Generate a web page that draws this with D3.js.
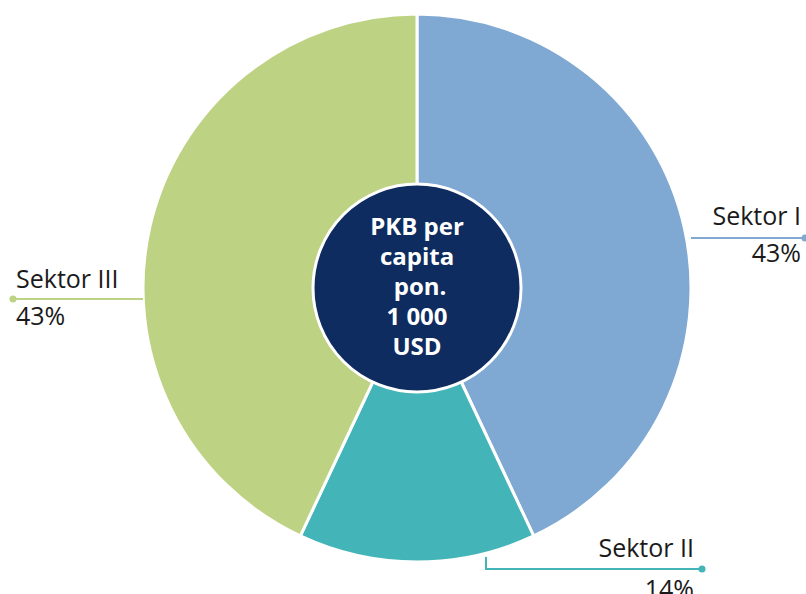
<!DOCTYPE html>
<html>
<head>
<meta charset="utf-8">
<script src="https://cdn.jsdelivr.net/npm/d3@7"></script>
<style>
  body { margin: 0; background: #fff; }
  svg { display: block; font-family: "Open Sans", "Noto Sans", sans-serif; }
</style>
</head>
<body>
<svg id="chart" width="806" height="594"></svg>
<script>
  var sectors = ['Sektor I', 'Sektor II', 'Sektor III'],
      shares = [43, 14, 43],
      colors = ['#7fa8d3', '#43b5b8', '#bdd283'],
      centerLines = ['PKB per', 'capita', '\u00a0pon.', '1 000', 'USD'];

  var cx = 417,
      cy = 288,
      radius = 274,
      holeRadius = 104;

  var svg = d3.select('#chart');
  var g = svg.append('g').attr('transform', 'translate(' + cx + ',' + cy + ')');

  var data = sectors.map(function(name, i) {
    return { name: name, value: shares[i], color: colors[i] };
  });

  var pie = d3.pie().sort(null).value(function(d) { return d.value; });
  var arc = d3.arc().innerRadius(0).outerRadius(radius);

  g.selectAll('path.slice')
    .data(pie(data))
    .enter().append('path')
      .attr('class', 'slice')
      .attr('d', arc)
      .style('fill', function(d) { return d.data.color; })
      .style('stroke', '#fff')
      .style('stroke-width', 3);

  // center disc
  g.append('circle')
    .attr('r', holeRadius)
    .style('fill', '#0e2c5f')
    .style('stroke', '#fff')
    .style('stroke-width', 3);

  g.append('text')
    .attr('text-anchor', 'middle')
    .style('fill', '#fff')
    .style('font-weight', 'bold')
    .style('font-size', '24px')
    .selectAll('tspan')
    .data(centerLines)
    .enter().append('tspan')
      .attr('x', 0)
      .attr('y', function(d, i) { return -53 + i * 30; })
      .text(function(d) { return d; });

  // leader lines + labels, anchored at the arc edge
  var leaders = [
    { i: 0, pts: [[radius, -50], [388, -50]], anchor: 'end', tx: 384, ty1: -63, ty2: -26 },
    { i: 1, pts: [[69, radius - 5], [69, 281], [285, 281]], anchor: 'end', tx: 277, ty1: 269, ty2: 310 },
    { i: 2, pts: [[-radius, 11], [-404, 11]], anchor: 'start', tx: -401, ty1: 0, ty2: 37 }
  ];

  var line = d3.line();
  leaders.forEach(function(l) {
    var c = colors[l.i],
        end = l.pts[l.pts.length - 1];
    g.append('path')
      .attr('d', line(l.pts))
      .style('fill', 'none')
      .style('stroke', c)
      .style('stroke-width', 2);
    g.append('circle')
      .attr('cx', end[0])
      .attr('cy', end[1])
      .attr('r', 3.5)
      .style('fill', c);
    g.append('text')
      .attr('x', l.tx)
      .attr('y', l.ty1)
      .attr('text-anchor', l.anchor)
      .style('font-size', '25px')
      .style('fill', '#1a1a1a')
      .text(sectors[l.i]);
    g.append('text')
      .attr('x', l.tx)
      .attr('y', l.ty2)
      .attr('text-anchor', l.anchor)
      .style('font-size', '25px')
      .style('fill', '#1a1a1a')
      .text(shares[l.i] + '%');
  });
</script>
</body>
</html>
